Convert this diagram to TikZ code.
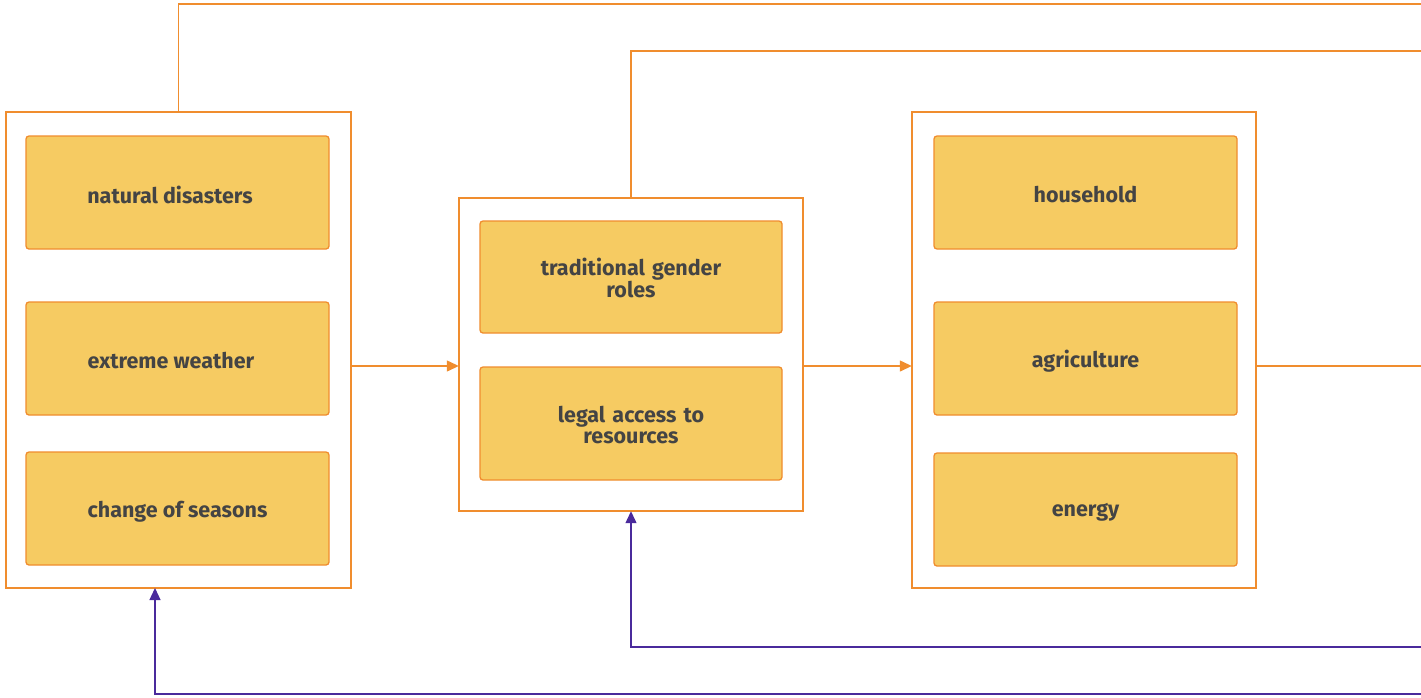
\documentclass[tikz,border=0pt]{standalone}
\usepackage{fontspec}
\setmainfont{Fira Sans}
\usetikzlibrary{arrows.meta}
\definecolor{lineorange}{HTML}{F08D2E}
\definecolor{boxfill}{HTML}{F6CB62}
\definecolor{loopviolet}{HTML}{4A2A9C}
\definecolor{labelgray}{HTML}{444444}
\tikzset{
  group/.style={draw=lineorange, line width=1.3pt, fill=white},
  item/.style={draw=lineorange, line width=1.3pt, fill=boxfill, rounded corners=3pt},
  itemlabel/.style={text=labelgray, font=\fontsize{21.5}{21}\selectfont\bfseries, align=center},
  flow/.style={draw=lineorange, line width=1.3pt},
  feedback/.style={draw=loopviolet, line width=1.3pt},
  flowtip/.style={-{Triangle[length=12pt,width=11pt]}},
}
\begin{document}
\begin{tikzpicture}[x=1pt,y=-1pt]
\useasboundingbox (0,0) rectangle (1421,697);

% outer groups
\draw[group] (6,112) rectangle (351,588);
\draw[group] (459,198) rectangle (803,511);
\draw[group] (912,112) rectangle (1256,588);
\node[inner sep=0, minimum width=345pt, minimum height=476pt] (causes) at (178.5,350) {};
\node[inner sep=0, minimum width=344pt, minimum height=313pt] (norms) at (631,354.5) {};
\node[inner sep=0, minimum width=344pt, minimum height=476pt] (sectors) at (1084,350) {};

% left column
\draw[item] (26,136) rectangle (329,249);
\node[itemlabel] (n1) at (170,195) {natural disasters};
\draw[item] (26,302) rectangle (329,415);
\node[itemlabel] (n2) at (171,361) {extreme weather};
\draw[item] (26,452) rectangle (329,565);
\node[itemlabel] (n3) at (177.5,511.5) {change of seasons};

% middle column
\draw[item] (480,221) rectangle (782,333);
\node[itemlabel, text width=230pt] (n4) at (631,278) {traditional gender\\roles};
\draw[item] (480,367) rectangle (782,480);
\node[itemlabel, text width=230pt] (n5) at (631,425) {legal access to\\resources};

% right column
\draw[item] (934,136) rectangle (1237,249);
\node[itemlabel] (n6) at (1085.5,195) {household};
\draw[item] (934,302) rectangle (1237,415);
\node[itemlabel] (n7) at (1085.5,361) {agriculture};
\draw[item] (934,453) rectangle (1237,566);
\node[itemlabel] (n8) at (1085.5,512.5) {energy};

% off-picture ends of the long connectors
\coordinate (outTop) at (1421,4);
\coordinate (outMid) at (1421,51);
\coordinate (outRight) at (1421,366);
\coordinate (inMid) at (1421,647);
\coordinate (inLow) at (1421,694);

% forward flow
\draw[flow, flowtip] (causes.east |- 0,366) -- (norms.west |- 0,366);
\draw[flow, flowtip] (norms.east |- 0,366) -- (sectors.west |- 0,366);
\draw[flow] (sectors.east |- outRight) -- (outRight);
\draw[flow] (causes.north) -- (causes.north |- outTop) -- (outTop);
\draw[flow] (norms.north) -- (norms.north |- outMid) -- (outMid);

% feedback loops
\draw[feedback, flowtip] (inMid) -- (norms.south |- inMid) -- (norms.south);
\draw[feedback, flowtip] (inLow) -- (155,694) -- (155,588);
\end{tikzpicture}
\end{document}
